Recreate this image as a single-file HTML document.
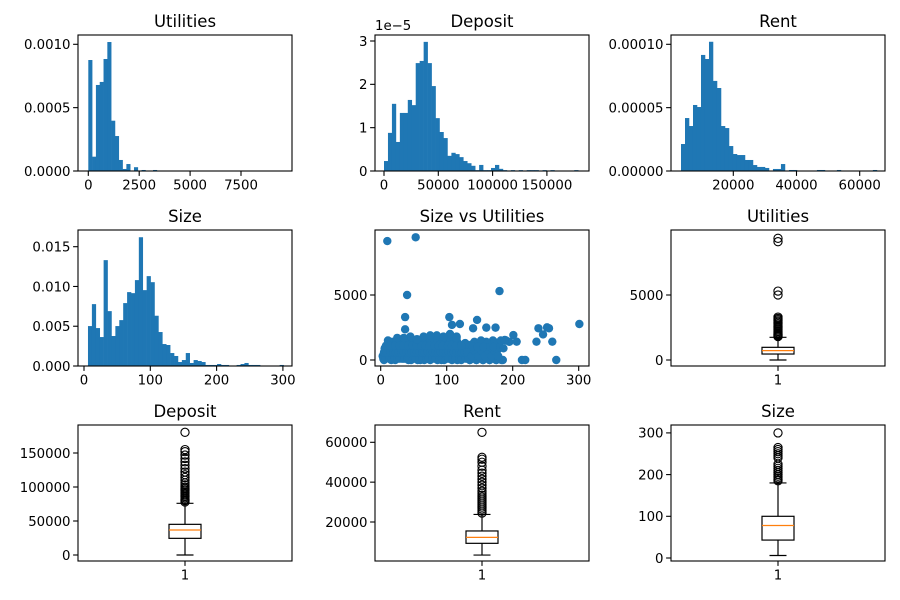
<!DOCTYPE html>
<html><head><meta charset="utf-8">
<style>
html,body{margin:0;padding:0;background:#fff;}
svg{display:block;font-family:"DejaVu Sans","Liberation Sans",sans-serif;}
</style></head>
<body>
<svg id="fig" width="900" height="600" viewBox="0 0 900 600" xmlns="http://www.w3.org/2000/svg">
<rect x="0" y="0" width="900" height="600" fill="#fff"/>
</svg>
<script>
// ---------- data ----------
const utilBinStart = 0;
const utilBinWidth = 187;
const utilHist = [0.000876,0.000113,0.000679,0.000703,0.000884,0.001018,0.000397,0.000276,0.000087,0.000016,0.000055,0,0.00003,0,0.000008,0,0,0.000008,0,0,0,0,0,0,0,0,0,0,0,0,0,0,0,0,0,0,0,0,0,0,0,0,0,0,0,0,0,0,0,0.000002];
const depBinStart = 0;
const depBinWidth = 3650;
const depHist = [0.23,0.88,1.55,0.67,1.34,1.34,1.64,1.52,2.49,2.54,2.98,2.49,1.96,1.22,0.90,0.76,0.35,0.42,0.39,0.32,0.23,0.18,0.12,0.02,0.14,0.02,0.02,0.07,0.14,0.05,0.02,0,0.02,0,0.02,0,0.02,0.02,0.02,0,0.02,0,0.02,0,0,0,0,0,0.02];
const rentBinStart = 3450;
const rentBinWidth = 1265;
const rentHist = [0.0000213,0.0000418,0.0000355,0.0000521,0.0000505,0.0000916,0.0000884,0.000102,0.0000711,0.0000655,0.0000355,0.0000339,0.0000197,0.0000134,0.0000126,0.0000126,0.0000087,0.0000087,0.0000047,0.0000032,0.0000032,0.0000024,0,0.0000016,0.0000016,0.0000055,0,0.0000008,0.0000008,0,0,0,0,0,0.0000008,0.0000008,0,0,0,0.0000008,0,0,0,0,0,0,0,0,0.0000008];
const sizeBinStart = 6;
const sizeBinWidth = 5.9;
const sizeHist = [0.00502,0.00778,0.00477,0.00364,0.01331,0.0069,0.00377,0.00502,0.00577,0.00791,0.00929,0.00916,0.0108,0.01619,0.00954,0.0113,0.01054,0.00632,0.00427,0.00276,0.00264,0.00163,0.00126,0.0005,0.00075,0.00163,0.00038,0.00075,0.00063,0.0005,0.00013,0.00013,0.00013,0.00025,0.00013,0.00013,0,0,0.00013,0.00025,0.00038,0.00013,0.00013,0.00013,0,0,0,0,0,0.00013];

const scatterSize = [5,8,10,12,15,18,20,22,25,28,30,32,35,38,40,42,45,48,50,52,55,58,60,62,65,68,70,72,75,78,80,82,85,88,90,92,95,98,100,102,105,108,110,112,115,118,120,122,125,128,130,132,135,138,140,145,150,155,160,165,170,175,180,185,190,3,6,14,24,16,33,44,56,66,76,86,96,106,116,126,46,56,66,86,96,116,20,30,40,50,60,70,80,90,100,110,120,130,150,160,9,11,27,37,47,57,67,77,87,97,107,117,127,137,142,152,162,172,176,182,195,
 10,53,40,180,37,104,37,301,120,146,108,140,160,174,239,252,255,246,236,260,266,214,219,201,206,177,188,135,145,155,165,175,183,
 4,7,13,17,21,26,29,34,36,41,43,49,53,59,63,69,73,79,83,89,93,99,103,109,113,119,123,129,133,
 5,9,15,19,23,27,31,35,39,43,47,51,55,59,63,67,71,75,79,83,87,91,95,99,103,107,111,115,119,123,127,131,
 8,14,22,28,34,42,48,54,62,68,74,82,88,94,102,108,114,122,
 138,143,148,153,158,163,168,173,178,140,147,156,166,171,181,186,
 25,45,65,85,105,75,95,115,55,35];
const scatterUtil = [0,200,500,800,1100,1400,300,0,900,1200,600,100,1000,1400,400,0,700,1300,200,900,1100,500,0,1500,800,300,1200,600,0,1400,900,200,1100,1700,500,0,1300,800,1600,300,1000,0,1400,700,1800,200,1100,0,600,1300,300,900,0,1200,500,0,1300,0,1400,0,1500,0,1300,0,1500,300,900,1400,1500,0,1300,1500,1400,1600,1500,1400,1700,1500,1400,1200,0,0,0,0,0,0,700,1000,1100,600,900,400,700,1200,100,500,800,1200,600,900,1000,1500,400,200,1000,300,1000,600,900,400,1200,900,400,700,1400,1500,1300,1400,800,1500,1400,
 9150,9440,5000,5300,3300,3300,2360,2770,2770,3080,2700,2440,2490,2490,2440,2510,2440,1970,1410,1410,0,0,0,1920,1410,770,1540,0,0,0,0,0,0,
 100,100,100,100,100,100,100,100,100,100,100,100,100,100,100,100,100,100,100,100,100,100,100,100,100,100,100,100,100,
 600,600,600,600,600,600,600,600,600,600,600,600,600,600,600,600,600,600,600,600,600,600,600,600,600,600,600,600,600,600,600,600,
 1100,1100,1100,1100,1100,1100,1100,1100,1100,1100,1100,1100,1100,1100,1100,1100,1100,1100,
 300,700,300,700,300,700,300,700,300,1000,1000,1000,1000,1000,1000,900,
 1700,1800,1800,1900,2000,1900,1800,1700,1600,1700];

const boxNames = ["Utilities","Deposit","Rent","Size"];
const boxQ1 = [460,24500,9300,43];
const boxMedian = [720,36800,12300,78];
const boxQ3 = [975,45100,15500,100];
const boxLow = [0,0,3400,6];
const boxHigh = [1745,76000,23800,180];
const utilOutliers = [1800,1850,1900,1950,2000,2100,2200,2300,2400,2500,2600,2700,2800,2900,3000,3100,3200,3300,5000,5300,9100,9360];
const depOutliers = [78000,80000,82000,84000,86000,88000,90000,92000,94000,96000,98000,100000,103000,106000,110000,114000,118000,122000,127000,132000,137000,142000,147000,152000,155000,180400];
const rentOutliers = [24500,25500,26500,27500,28500,29500,30500,31500,32500,33500,34500,35500,37000,38500,40000,41500,43000,44500,46000,48000,50000,51500,52500,65000];
const sizeOutliers = [185,188,192,196,200,205,210,215,220,225,240,245,250,255,260,265,300];

const utilXTicks = [0,2500,5000,7500];
const utilYTicks = [0,0.0005,0.0010];
const utilYLabels = ["0.0000","0.0005","0.0010"];
const depXTicks = [0,50000,100000,150000];
const depYTicks = [0,1,2,3];
const rentXTicks = [20000,40000,60000];
const rentYTicks = [0,0.00005,0.0001];
const rentYLabels = ["0.00000","0.00005","0.00010"];
const sizeXTicks = [0,100,200,300];
const sizeYTicks = [0,0.005,0.010,0.015];
const sizeYLabels = ["0.000","0.005","0.010","0.015"];
const scatXTicks = [0,100,200,300];
const scatYTicks = [0,5000];
const utilBoxTicks = [0,5000];
const depBoxTicks = [0,50000,100000,150000];
const rentBoxTicks = [20000,40000,60000];
const sizeBoxTicks = [0,100,200,300];

// ---------- helpers ----------
const NS = 'http://www.w3.org/2000/svg';
const svg = document.getElementById('fig');
const BLUE = '#1f77b4';
function mk(tag, attrs, parent) {
  const e = document.createElementNS(NS, tag);
  for (const k in attrs) e.setAttribute(k, attrs[k]);
  (parent || svg).appendChild(e);
  return e;
}
function lin(v0, p0, v1, p1) { return v => p0 + (v - v0) * (p1 - p0) / (v1 - v0); }

function makeAxes(name, x0, y0, x1, y1, title) {
  const g = mk('g', {});
  
  
  const t = mk('text', {x: (x0 + x1) / 2, y: y0 - 8, 'text-anchor': 'middle', 'font-size': '16.5px', fill: '#000'}, g);
  t.textContent = title;
  
  
  return g;
}
function frame(g, x0, y0, x1, y1) {
  const r = mk('rect', {x: x0, y: y0, width: x1 - x0, height: y1 - y0, fill: 'none', stroke: '#000', 'stroke-width': 1.1}, g);
  
  
}
function xTicks(g, ticks, labels, sx, yb) {
  ticks.forEach((v, i) => {
    const x = sx(v);
    mk('line', {x1: x, x2: x, y1: yb, y2: yb + 4.9, stroke: '#000', 'stroke-width': 1.1}, g);
    const t = mk('text', {x: x, y: yb + 18.5, 'text-anchor': 'middle', 'font-size': '13.3px', fill: '#000'}, g);
    t.textContent = labels ? labels[i] : String(v);
    
    
  });
}
function yTicks(g, ticks, labels, sy, xl) {
  ticks.forEach((v, i) => {
    const y = sy(v);
    mk('line', {x1: xl - 4.9, x2: xl, y1: y, y2: y, stroke: '#000', 'stroke-width': 1.1}, g);
    const t = mk('text', {x: xl - 7.5, y: y + 4.8, 'text-anchor': 'end', 'font-size': '13.3px', fill: '#000'}, g);
    t.textContent = labels ? labels[i] : String(v);
    
    
  });
}
function hist(g, start, w, vals, sx, sy, name) {
  vals.forEach((h, i) => {
    if (h <= 0) return;
    const a = sx(start + i * w), b = sx(start + (i + 1) * w);
    const r = mk('rect', {x: a, y: sy(h), width: b - a + 0.3, height: sy(0) - sy(h), fill: BLUE}, g);
    
    
  });
}
function boxplot(g, k, outs, cx, sy, name) {
  const hw = 16, cw = 8.5;
  const ln = (x1, y1, x2, y2, c) => mk('line', {x1, y1, x2, y2, stroke: c || '#000', 'stroke-width': 1.2}, g);
  ln(cx, sy(boxQ1[k]), cx, sy(boxLow[k]));
  ln(cx, sy(boxQ3[k]), cx, sy(boxHigh[k]));
  ln(cx - cw, sy(boxLow[k]), cx + cw, sy(boxLow[k]));
  ln(cx - cw, sy(boxHigh[k]), cx + cw, sy(boxHigh[k]));
  const r = mk('rect', {x: cx - hw, y: sy(boxQ3[k]), width: 2 * hw, height: sy(boxQ1[k]) - sy(boxQ3[k]), fill: 'none', stroke: '#000', 'stroke-width': 1.2}, g);
  
  
  const m = ln(cx - hw, sy(boxMedian[k]), cx + hw, sy(boxMedian[k]), '#ff7f0e');
  
  
  outs.forEach(v => {
    const c = mk('circle', {cx: cx, cy: sy(v), r: 4.1, fill: 'none', stroke: '#000', 'stroke-width': 1.1}, g);
    
    
  });
}

// ---------- panel 1: Utilities hist ----------
(function(){
  const x0=78,x1=292,y0=35,y1=171;
  const g = makeAxes('utilities-histogram', x0,y0,x1,y1,'Utilities');
  const sx = lin(0,88.3,2500,139.2), sy = lin(0,171,0.001,44.3);
  hist(g, utilBinStart, utilBinWidth, utilHist, sx, sy, 'utilities');
  xTicks(g, utilXTicks, null, sx, y1); yTicks(g, utilYTicks, utilYLabels, sy, x0);
  frame(g,x0,y0,x1,y1);
})();
// ---------- panel 2: Deposit hist ----------
(function(){
  const x0=375,x1=589,y0=35,y1=171;
  const g = makeAxes('deposit-histogram', x0,y0,x1,y1,'Deposit');
  const sx = lin(0,384,50000,438.3), sy = lin(0,171,3,41);
  hist(g, depBinStart, depBinWidth, depHist, sx, sy, 'deposit');
  xTicks(g, depXTicks, null, sx, y1); yTicks(g, depYTicks, null, sy, x0);
  const o = mk('text', {x: 375, y: 30, 'font-size': '13.3px', fill: '#000'}, g);
  o.textContent = '1e\u22125';
  
  
  frame(g,x0,y0,x1,y1);
})();
// ---------- panel 3: Rent hist ----------
(function(){
  const x0=671,x1=885,y0=35,y1=171;
  const g = makeAxes('rent-histogram', x0,y0,x1,y1,'Rent');
  const sx = lin(20000,733.3,40000,796.5), sy = lin(0,171,0.0001,44.3);
  hist(g, rentBinStart, rentBinWidth, rentHist, sx, sy, 'rent');
  xTicks(g, rentXTicks, null, sx, y1); yTicks(g, rentYTicks, rentYLabels, sy, x0);
  frame(g,x0,y0,x1,y1);
})();
// ---------- panel 4: Size hist ----------
(function(){
  const x0=78,x1=292,y0=230,y1=366;
  const g = makeAxes('size-histogram', x0,y0,x1,y1,'Size');
  const sx = lin(0,84,100,150.3), sy = lin(0,366,0.015,246.7);
  hist(g, sizeBinStart, sizeBinWidth, sizeHist, sx, sy, 'size');
  xTicks(g, sizeXTicks, null, sx, y1); yTicks(g, sizeYTicks, sizeYLabels, sy, x0);
  frame(g,x0,y0,x1,y1);
})();
// ---------- panel 5: scatter ----------
(function(){
  const x0=375,x1=589,y0=230,y1=366;
  const g = makeAxes('size-vs-utilities-scatter', x0,y0,x1,y1,'Size vs Utilities');
  const sx = lin(0,380.7,100,446.7), sy = lin(0,360,5000,295);
  scatterSize.forEach((v, i) => {
    const c = mk('circle', {cx: sx(v), cy: sy(scatterUtil[i]), r: 4.2, fill: BLUE}, g);
    
    
  });
  xTicks(g, scatXTicks, null, sx, y1); yTicks(g, scatYTicks, null, sy, x0);
  frame(g,x0,y0,x1,y1);
})();
// ---------- boxplots ----------
function boxPanel(name, title, k, x0, y0, y1, sy, outs, ticks) {
  const x1 = x0 + 214;
  const g = makeAxes(name, x0,y0,x1,y1,title);
  const cx = (x0 + x1) / 2;
  boxplot(g, k, outs, cx, sy, name);
  xTicks(g, [1], null, () => cx, y1); yTicks(g, ticks, null, sy, x0);
  frame(g,x0,y0,x1,y1);
}
boxPanel('utilities-boxplot','Utilities',0,671,230,366,lin(0,360,5000,295),utilOutliers,utilBoxTicks);
boxPanel('deposit-boxplot','Deposit',1,78,425,561,lin(0,555,50000,521),depOutliers,depBoxTicks);
boxPanel('rent-boxplot','Rent',2,375,425,561,lin(0,561.85,20000,522),rentOutliers,rentBoxTicks);
boxPanel('size-boxplot','Size',3,671,425,561,lin(0,558,100,516.3),sizeOutliers,sizeBoxTicks);
</script>
</body></html>
